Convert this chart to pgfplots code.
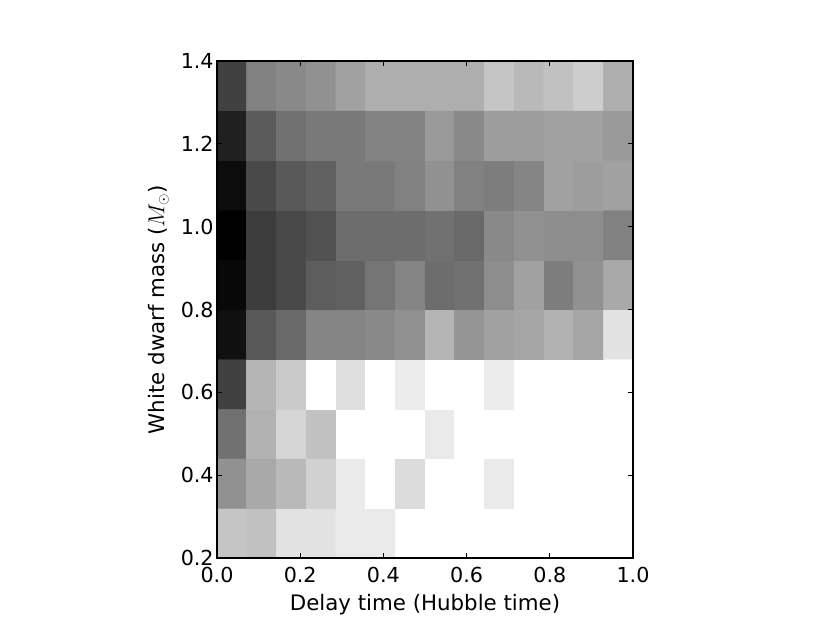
\documentclass[border=0pt]{standalone}
\usepackage{pgfplots}
\pgfplotsset{compat=1.18}
\usepackage{pgfplotstable}
\usepackage{fontspec}
\setmainfont{DejaVu Sans}
\pgfplotstableread{
x y c
0.035714 0.26 196
0.107143 0.26 192
0.178571 0.26 224
0.250000 0.26 224
0.321429 0.26 232
0.392857 0.26 232
0.464286 0.26 255
0.535714 0.26 255
0.607143 0.26 255
0.678571 0.26 255
0.750000 0.26 255
0.821429 0.26 255
0.892857 0.26 255
0.964286 0.26 255
0.035714 0.38 144
0.107143 0.38 168
0.178571 0.38 184
0.250000 0.38 208
0.321429 0.38 232
0.392857 0.38 255
0.464286 0.38 218
0.535714 0.38 255
0.607143 0.38 255
0.678571 0.38 232
0.750000 0.38 255
0.821429 0.38 255
0.892857 0.38 255
0.964286 0.38 255
0.035714 0.50 112
0.107143 0.50 176
0.178571 0.50 212
0.250000 0.50 192
0.321429 0.50 255
0.392857 0.50 255
0.464286 0.50 255
0.535714 0.50 232
0.607143 0.50 255
0.678571 0.50 255
0.750000 0.50 255
0.821429 0.50 255
0.892857 0.50 255
0.964286 0.50 255
0.035714 0.62 64
0.107143 0.62 180
0.178571 0.62 200
0.250000 0.62 255
0.321429 0.62 220
0.392857 0.62 255
0.464286 0.62 234
0.535714 0.62 255
0.607143 0.62 255
0.678571 0.62 234
0.750000 0.62 255
0.821429 0.62 255
0.892857 0.62 255
0.964286 0.62 255
0.035714 0.74 16
0.107143 0.74 88
0.178571 0.74 104
0.250000 0.74 132
0.321429 0.74 132
0.392857 0.74 136
0.464286 0.74 144
0.535714 0.74 180
0.607143 0.74 148
0.678571 0.74 160
0.750000 0.74 164
0.821429 0.74 176
0.892857 0.74 164
0.964286 0.74 224
0.035714 0.86 8
0.107143 0.86 60
0.178571 0.86 72
0.250000 0.86 92
0.321429 0.86 96
0.392857 0.86 116
0.464286 0.86 132
0.535714 0.86 108
0.607143 0.86 112
0.678571 0.86 140
0.750000 0.86 160
0.821429 0.86 124
0.892857 0.86 144
0.964286 0.86 168
0.035714 0.98 0
0.107143 0.98 60
0.178571 0.98 72
0.250000 0.98 80
0.321429 0.98 108
0.392857 0.98 108
0.464286 0.98 108
0.535714 0.98 112
0.607143 0.98 104
0.678571 0.98 136
0.750000 0.98 144
0.821429 0.98 140
0.892857 0.98 140
0.964286 0.98 128
0.035714 1.10 12
0.107143 1.10 72
0.178571 1.10 88
0.250000 1.10 96
0.321429 1.10 120
0.392857 1.10 120
0.464286 1.10 128
0.535714 1.10 144
0.607143 1.10 128
0.678571 1.10 124
0.750000 1.10 132
0.821429 1.10 160
0.892857 1.10 156
0.964286 1.10 160
0.035714 1.22 32
0.107143 1.22 90
0.178571 1.22 112
0.250000 1.22 120
0.321429 1.22 120
0.392857 1.22 130
0.464286 1.22 130
0.535714 1.22 152
0.607143 1.22 136
0.678571 1.22 156
0.750000 1.22 156
0.821429 1.22 160
0.892857 1.22 160
0.964286 1.22 152
0.035714 1.34 64
0.107143 1.34 128
0.178571 1.34 136
0.250000 1.34 144
0.321429 1.34 160
0.392857 1.34 173
0.464286 1.34 173
0.535714 1.34 173
0.607143 1.34 173
0.678571 1.34 196
0.750000 1.34 184
0.821429 1.34 192
0.892857 1.34 204
0.964286 1.34 173
}\cells
\begin{document}
\begin{tikzpicture}
\begin{axis}[
  name=ax,
  scale only axis,
  width=312pt, height=372.75pt,
  xmin=0, xmax=1, ymin=0.2, ymax=1.4,
  xtick={0,0.2,...,1.0},
  ytick={0.2,0.4,...,1.4},
  tick align=inside,
  tick pos=both,
  major tick length=3.5pt,
  axis on top,
  axis line style={line width=0.8pt},
  tick style={black, line width=0.6pt},
  /pgf/number format/assume math mode=true,
  /pgf/number format/fixed,
  /pgf/number format/fixed zerofill,
  /pgf/number format/precision=1,
  tick label style={font=\fontsize{15.5pt}{18pt}\selectfont},
  label style={font=\fontsize{16pt}{19pt}\selectfont},
  xlabel={Delay time (Hubble time)},
  ylabel={White dwarf mass ($M_\odot$)},
  xticklabel style={yshift=-3pt},
  yticklabel style={xshift=1pt},
  xlabel style={yshift=-2pt},
  ylabel style={yshift=2pt},
  colormap={bw}{gray(0cm)=(0); gray(1cm)=(1)},
  point meta min=0, point meta max=255,
]
\addplot[matrix plot*, mesh/cols=14, point meta=explicit] table[x=x, y=y, meta=c] {\cells};
\end{axis}
\path (ax.south west) ++(-162.75pt,-48.75pt) rectangle ([xshift=147.75pt,yshift=45.75pt]ax.north east);
\end{tikzpicture}
\end{document}
